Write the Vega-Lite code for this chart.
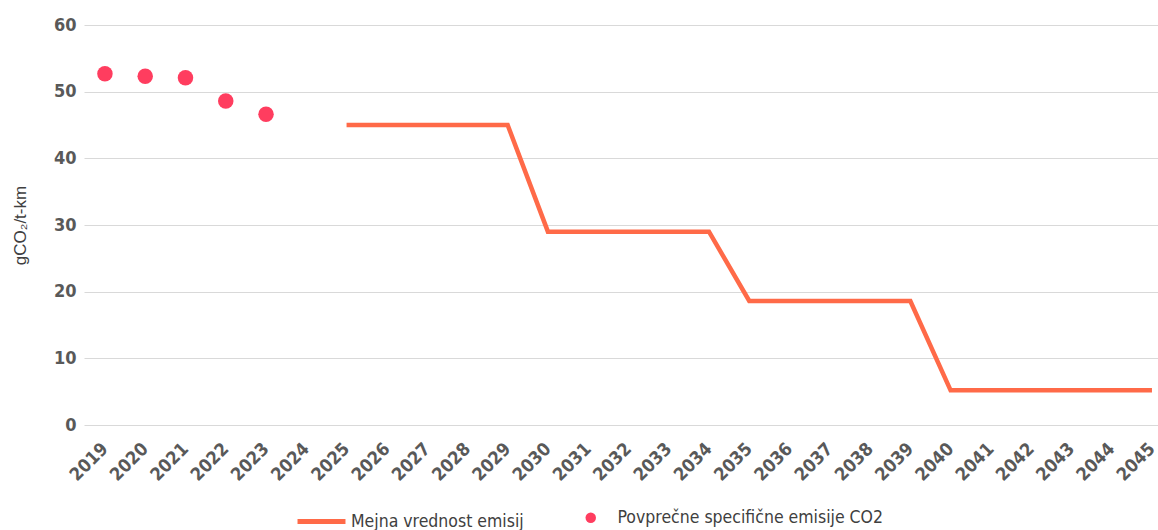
{
  "$schema": "https://vega.github.io/schema/vega-lite/v6.json",
  "width": 1074,
  "height": 400,
  "autosize": {"type": "none"},
  "padding": {"left": 84, "top": 25, "right": 0, "bottom": 105},
  "background": "white",
  "config": {
    "view": {"stroke": null},
    "font": "DejaVu Sans Condensed, Roboto Condensed, Liberation Sans Narrow, Roboto, sans-serif"
  },
  "data": {
    "values": [
      {"year": 2019, "value": 52.7, "series": "Povprečne specifične emisije CO2"},
      {"year": 2020, "value": 52.3, "series": "Povprečne specifične emisije CO2"},
      {"year": 2021, "value": 52.1, "series": "Povprečne specifične emisije CO2"},
      {"year": 2022, "value": 48.6, "series": "Povprečne specifične emisije CO2"},
      {"year": 2023, "value": 46.6, "series": "Povprečne specifične emisije CO2"},
      {"year": 2025, "value": 45, "series": "Mejna vrednost emisij"},
      {"year": 2026, "value": 45, "series": "Mejna vrednost emisij"},
      {"year": 2027, "value": 45, "series": "Mejna vrednost emisij"},
      {"year": 2028, "value": 45, "series": "Mejna vrednost emisij"},
      {"year": 2029, "value": 45, "series": "Mejna vrednost emisij"},
      {"year": 2030, "value": 29, "series": "Mejna vrednost emisij"},
      {"year": 2031, "value": 29, "series": "Mejna vrednost emisij"},
      {"year": 2032, "value": 29, "series": "Mejna vrednost emisij"},
      {"year": 2033, "value": 29, "series": "Mejna vrednost emisij"},
      {"year": 2034, "value": 29, "series": "Mejna vrednost emisij"},
      {"year": 2035, "value": 18.6, "series": "Mejna vrednost emisij"},
      {"year": 2036, "value": 18.6, "series": "Mejna vrednost emisij"},
      {"year": 2037, "value": 18.6, "series": "Mejna vrednost emisij"},
      {"year": 2038, "value": 18.6, "series": "Mejna vrednost emisij"},
      {"year": 2039, "value": 18.6, "series": "Mejna vrednost emisij"},
      {"year": 2040, "value": 5.2, "series": "Mejna vrednost emisij"},
      {"year": 2041, "value": 5.2, "series": "Mejna vrednost emisij"},
      {"year": 2042, "value": 5.2, "series": "Mejna vrednost emisij"},
      {"year": 2043, "value": 5.2, "series": "Mejna vrednost emisij"},
      {"year": 2044, "value": 5.2, "series": "Mejna vrednost emisij"},
      {"year": 2045, "value": 5.2, "series": "Mejna vrednost emisij"}
    ]
  },
  "encoding": {
    "x": {
      "field": "year",
      "type": "quantitative",
      "scale": {"domain": [2018.48, 2045.15], "nice": false, "zero": false},
      "axis": {
        "title": null,
        "values": [2019,2020,2021,2022,2023,2024,2025,2026,2027,2028,2029,2030,2031,2032,2033,2034,2035,2036,2037,2038,2039,2040,2041,2042,2043,2044,2045],
        "format": "d",
        "labelAngle": -45,
        "labelAlign": "right",
        "labelBaseline": "middle",
        "labelFontSize": 18,
        "labelFontWeight": 600,
        "labelColor": "#595959",
        "labelPadding": 21,
        "labelOverlap": false,
        "labelBound": false,
        "labelFlush": false,
        "grid": false,
        "domain": false,
        "ticks": false
      }
    },
    "y": {
      "field": "value",
      "type": "quantitative",
      "scale": {"domain": [0, 60], "nice": false},
      "axis": {
        "title": "gCO₂/t-km",
        "titleFont": "Liberation Sans",
        "titleFontSize": 17,
        "titleFontWeight": "normal",
        "titleColor": "#404040",
        "titlePadding": 24,
        "values": [0, 10, 20, 30, 40, 50, 60],
        "labelFontSize": 18,
        "labelFontWeight": "bold",
        "labelColor": "#595959",
        "labelPadding": 8,
        "grid": true,
        "gridColor": "#d9d9d9",
        "gridWidth": 1,
        "domain": false,
        "ticks": false
      }
    }
  },
  "layer": [
    {
      "transform": [{"filter": "datum.series === 'Mejna vrednost emisij'"}],
      "mark": {"type": "line", "strokeWidth": 4.5, "strokeJoin": "miter"},
      "encoding": {
        "stroke": {
          "field": "series",
          "type": "nominal",
          "scale": {"domain": ["Mejna vrednost emisij"], "range": ["#FF6A48"]},
          "legend": {
            "title": null,
            "orient": "none",
            "legendX": 211,
            "legendY": 470,
            "symbolType": "stroke",
            "symbolSize": 2300,
            "symbolStrokeWidth": 5,
            "labelFontSize": 17.5,
            "labelColor": "#404040",
            "labelOffset": 3,
            "labelLimit": 400
          }
        }
      }
    },
    {
      "transform": [{"filter": "datum.series !== 'Mejna vrednost emisij'"}],
      "mark": {"type": "circle", "size": 240, "opacity": 1},
      "encoding": {
        "fill": {
          "field": "series",
          "type": "nominal",
          "scale": {"domain": ["Povprečne specifične emisije CO2"], "range": ["#FF3D5F"]},
          "legend": {
            "title": null,
            "orient": "none",
            "legendX": 498,
            "legendY": 484,
            "symbolType": "circle",
            "symbolSize": 110,
            "symbolStrokeWidth": 0,
            "labelFontSize": 17.5,
            "labelColor": "#404040",
            "labelOffset": 18,
            "labelLimit": 400
          }
        }
      }
    }
  ]
}
